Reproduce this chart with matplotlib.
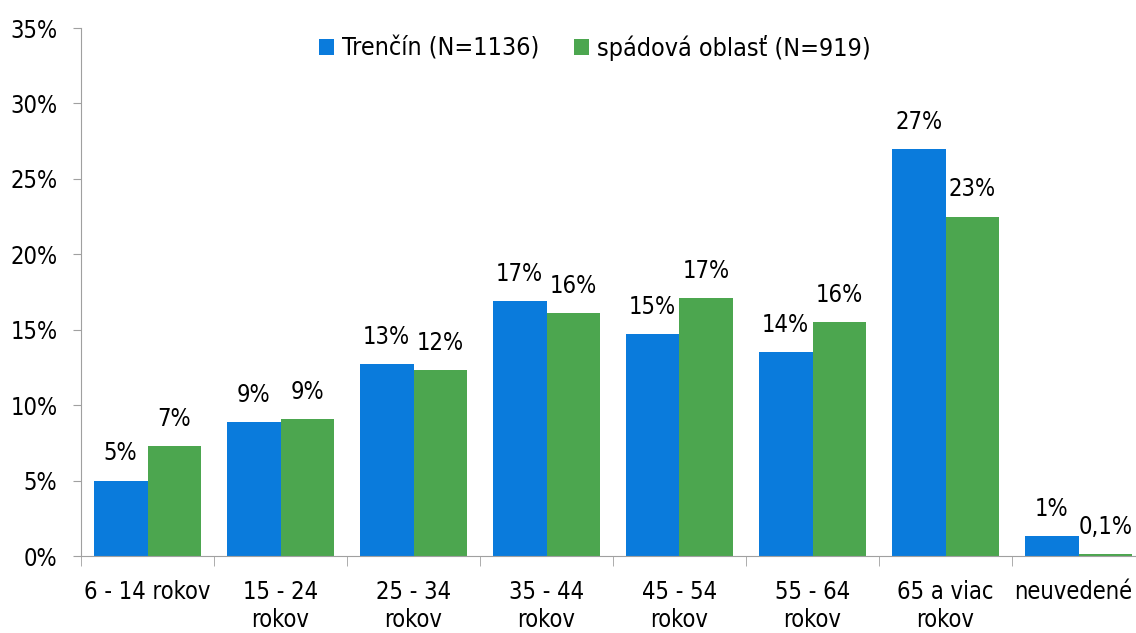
import matplotlib.pyplot as plt
import matplotlib.transforms as mtransforms
import numpy as np

# condensed DejaVu comes closest to the narrow face of the original
plt.rcParams['font.family'] = ['DejaVu Sans']
plt.rcParams['font.stretch'] = 'condensed'

categories = ['6 - 14 rokov', '15 - 24\nrokov', '25 - 34\nrokov', '35 - 44\nrokov',
              '45 - 54\nrokov', '55 - 64\nrokov', '65 a viac\nrokov', 'neuvedené']
trencin = [5.0, 8.9, 12.7, 16.9, 14.7, 13.5, 27.0, 1.3]
spadova = [7.3, 9.1, 12.3, 16.1, 17.1, 15.5, 22.5, 0.1]
trencin_labels = ['5%', '9%', '13%', '17%', '15%', '14%', '27%', '1%']
spadova_labels = ['7%', '9%', '12%', '16%', '17%', '16%', '23%', '0,1%']

blue = '#0A7BDC'
green = '#4CA64F'

fig = plt.figure(figsize=(11.36, 6.33), dpi=100)
ax = fig.add_axes([81/1136, 77/633, 1064/1136, 528/633])

x = np.arange(len(categories))
w = 0.405
b1 = ax.bar(x - w/2, trencin, w, color=blue, label='Trenčín (N=1136)')
b2 = ax.bar(x + w/2, spadova, w, color=green, label='spádová oblasť (N=919)')

# value labels above bars
for bars, labels in ((b1, trencin_labels), (b2, spadova_labels)):
    for bar, lab in zip(bars, labels):
        ax.text(bar.get_x() + bar.get_width()/2, bar.get_height() + 1.0, lab,
                ha='center', va='bottom', fontsize=17)

ax.set_xlim(-0.5, len(categories) - 0.5)
ax.set_ylim(0, 35)
ax.set_yticks(np.arange(0, 36, 5))
ax.set_yticklabels([f'{v}%' for v in range(0, 36, 5)], fontsize=17)

ax.set_xticks(x)
ax.set_xticklabels(categories, fontsize=17, linespacing=1.25)
ax.tick_params(axis='x', length=0, pad=17)
ax.set_xticks(np.arange(-0.5, len(categories), 1), minor=True)
ax.tick_params(axis='x', which='minor', length=7, color='#A0A0A0', direction='out')
ax.tick_params(axis='y', length=6, color='#A0A0A0', direction='out', pad=11)

# last label sits right at the figure edge; nudge it inward a few px
last = ax.get_xticklabels()[-1]
last.set_transform(last.get_transform() + mtransforms.ScaledTranslation(-5/100, 0, fig.dpi_scale_trans))

for s in ('top', 'right'):
    ax.spines[s].set_visible(False)
for s in ('left', 'bottom'):
    ax.spines[s].set_color('#A0A0A0')

ax.legend(loc='upper center', bbox_to_anchor=(0.483, 1.03), ncol=2, frameon=False,
          fontsize=18, handlelength=0.6, handleheight=0.6, handletextpad=0.3,
          columnspacing=1.4)

fig.savefig('out.png', dpi=100)
